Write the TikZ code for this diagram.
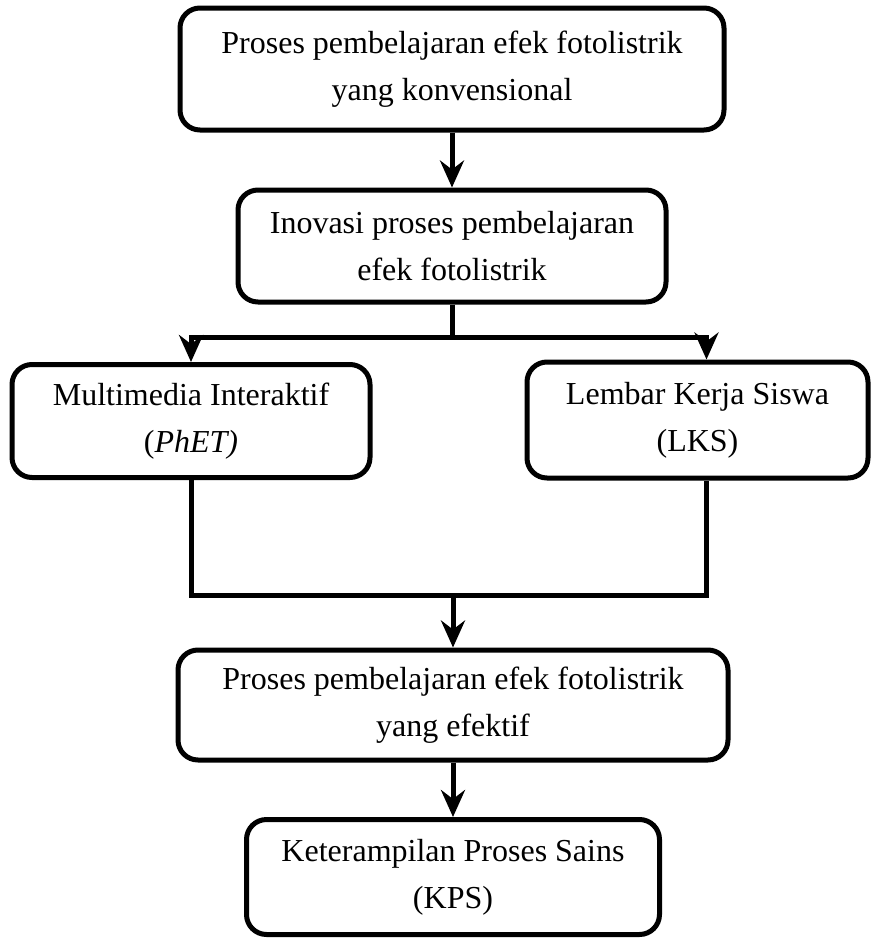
\documentclass[tikz,border=0pt]{standalone}
\usepackage{fontspec}
\setmainfont{Liberation Serif}
\usetikzlibrary{arrows.meta}
\begin{document}
\begin{tikzpicture}[x=0.5pt,y=-0.5pt,
  box/.style={draw, line width=2.5pt, rounded corners=10pt, align=center,
    inner sep=0pt, font=\fontsize{16pt}{23.5pt}\selectfont},
  link/.style={line width=2.5pt},
  flow/.style={link, -{Stealth[length=13.5pt,width=12pt,inset=4.5pt]}}]
\useasboundingbox (0,0) rectangle (874,938);

% process boxes
\node[box, minimum width=272pt, minimum height=61pt] (konv) at (452,69)
  {Proses pembelajaran efek fotolistrik\\yang konvensional};
\node[box, minimum width=214pt, minimum height=56pt] (inov) at (452,246)
  {Inovasi proses pembelajaran\\efek fotolistrik};
\node[box, minimum width=179pt, minimum height=56.5pt] (mm) at (191,421)
  {Multimedia Interaktif\\(\textit{PhET)}};
\node[box, minimum width=170.5pt, minimum height=58pt] (lks) at (697.5,420)
  {Lembar Kerja Siswa\\(LKS)};
\node[box, minimum width=275pt, minimum height=55pt] (efek) at (453,705)
  {Proses pembelajaran efek fotolistrik\\yang efektif};
\node[box, minimum width=206.5pt, minimum height=57.5pt] (kps) at (453,877)
  {Keterampilan Proses Sains\\(KPS)};

% branching and merging points
\coordinate (split) at (inov.south |- 0,337);
\coordinate (merge) at (efek.north |- 0,595);
\coordinate (lksin) at ([xshift=4.5pt]lks.north);
\coordinate (lksout) at ([xshift=4.5pt]lks.south);

% connectors
\draw[flow] (konv.south) -- (konv.south |- inov.north);
\draw[link] (inov.south) -- (split);
\draw[flow] (split) -| (mm.north);
\draw[flow] (split) -| (lksin);
\draw[link] (mm.south) |- (merge) -| (lksout);
\draw[flow] (merge) -- (efek.north);
\draw[flow] (efek.south) -- (efek.south |- kps.north);
\end{tikzpicture}
\end{document}
